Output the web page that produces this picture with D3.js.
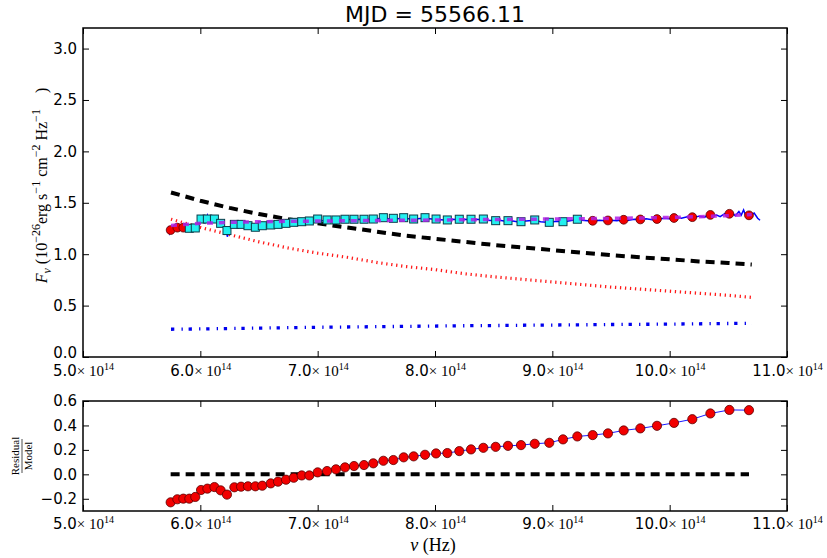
<!DOCTYPE html>
<html>
<head>
<meta charset="utf-8">
<script src="https://cdn.jsdelivr.net/npm/d3@7/dist/d3.min.js"></script>
<style>
  html, body { margin: 0; padding: 0; background: #fff; }
  svg { display: block; }
</style>
</head>
<body>
<svg id="chart" width="827" height="558"></svg>
<script>
// ---- data (frequency in units of 1e14 Hz, flux in 1e-26 erg s^-1 cm^-2 Hz^-1) ----
const title = "MJD = 55566.11";

const xTicks = [5, 6, 7, 8, 9, 10, 11];
const yTicksTop = [0, 0.5, 1, 1.5, 2, 2.5, 3];
const yTicksRes = [-0.2, 0, 0.2, 0.4, 0.6];

// binned photometry frequencies
const binNu = [5.747, 5.804, 5.855, 5.906, 5.957, 6.006, 6.060, 6.120, 6.173, 6.227,
  6.290, 6.347, 6.406, 6.469, 6.528, 6.600, 6.662, 6.730, 6.796, 6.864,
  6.929, 7.000, 7.080, 7.156, 7.233, 7.310, 7.395, 7.474, 7.560, 7.645,
  7.733, 7.818, 7.915, 8.009, 8.105, 8.207, 8.307, 8.412, 8.517, 8.622,
  8.733, 8.850, 8.974, 9.091, 9.213, 9.344, 9.474, 9.608, 9.750, 9.892,
  10.037, 10.193, 10.347, 10.509, 10.676];

// binned flux
const binFlux = [1.235, 1.258, 1.258, 1.252, 1.255, 1.342, 1.342, 1.342, 1.300, 1.230,
  1.290, 1.290, 1.277, 1.262, 1.277, 1.284, 1.290, 1.300, 1.310, 1.316,
  1.323, 1.342, 1.333, 1.333, 1.340, 1.340, 1.340, 1.342, 1.355, 1.349,
  1.355, 1.342, 1.355, 1.342, 1.333, 1.340, 1.340, 1.342, 1.326, 1.326,
  1.316, 1.333, 1.310, 1.316, 1.340, 1.325, 1.328, 1.335, 1.338, 1.342,
  1.352, 1.360, 1.382, 1.393, 1.378];

// bins [SQUARE_START, SQUARE_END) come from the second instrument (cyan squares)
const SQUARE_START = 3, SQUARE_END = 45;

// residual / model
const residual = [-0.229, -0.204, -0.199, -0.199, -0.185, -0.128, -0.117, -0.104, -0.131, -0.166,
  -0.106, -0.101, -0.098, -0.098, -0.093, -0.074, -0.060, -0.044, -0.028, -0.009,
  -0.009, 0.016, 0.027, 0.041, 0.057, 0.068, 0.076, 0.090, 0.111, 0.117,
  0.139, 0.147, 0.160, 0.171, 0.174, 0.190, 0.204, 0.217, 0.225, 0.233,
  0.239, 0.250, 0.258, 0.286, 0.310, 0.321, 0.335, 0.359, 0.376, 0.397,
  0.421, 0.451, 0.498, 0.527, 0.525];

// model grid and components
const modelNu = [5.75, 6.0, 6.25, 6.5, 6.75, 7.0, 7.25, 7.5, 7.75, 8.0, 8.25,
  8.5, 8.75, 9.0, 9.25, 9.5, 9.75, 10.0, 10.25, 10.5, 10.7];
const modelTotal = [1.280, 1.300, 1.310, 1.315, 1.320, 1.322, 1.325, 1.328, 1.330, 1.332, 1.335,
  1.337, 1.340, 1.342, 1.345, 1.348, 1.352, 1.357, 1.365, 1.375, 1.385];
const modelPowerLaw = [1.60, 1.52, 1.45, 1.39, 1.34, 1.30, 1.26, 1.22, 1.18, 1.15, 1.12,
  1.09, 1.065, 1.04, 1.015, 0.99, 0.97, 0.95, 0.93, 0.915, 0.90];
const modelDisk = [1.34, 1.26, 1.19, 1.12, 1.06, 1.01, 0.97, 0.92, 0.88, 0.85, 0.81,
  0.78, 0.755, 0.73, 0.705, 0.68, 0.66, 0.64, 0.62, 0.60, 0.58];
const modelHost = [0.270, 0.273, 0.277, 0.281, 0.285, 0.289, 0.292, 0.295, 0.298, 0.301, 0.304,
  0.306, 0.309, 0.311, 0.313, 0.316, 0.318, 0.320, 0.323, 0.326, 0.328];

// spectrum
const specNu = [5.72, 5.73, 5.74, 5.76, 5.78, 5.80, 5.82, 5.84, 5.86, 5.88, 5.90, 5.92, 5.94, 5.96, 5.98,
  6.00, 6.02, 6.04, 6.06, 6.08, 6.10, 6.12, 6.14, 6.16, 6.18, 6.20, 6.22, 6.23, 6.25, 6.27,
  6.30, 6.33, 6.36, 6.40, 6.44, 6.48, 6.52, 6.56, 6.60, 6.65, 6.70, 6.75, 6.80, 6.85, 6.90,
  6.95, 7.00, 7.05, 7.10, 7.15, 7.20, 7.25, 7.30, 7.35, 7.40, 7.45, 7.50, 7.55, 7.60, 7.65,
  7.70, 7.75, 7.80, 7.85, 7.90, 7.95, 8.00, 8.05, 8.10, 8.15, 8.20, 8.25, 8.30, 8.35, 8.40,
  8.45, 8.50, 8.55, 8.60, 8.65, 8.70, 8.75, 8.80, 8.85, 8.90, 8.95, 9.00, 9.05, 9.10, 9.15,
  9.20, 9.25, 9.30, 9.35, 9.40, 9.45, 9.50, 9.55, 9.60, 9.65, 9.70, 9.75, 9.80, 9.85, 9.90,
  9.95, 10.00, 10.05, 10.10, 10.15, 10.20, 10.25, 10.30, 10.33, 10.36, 10.40, 10.43, 10.47, 10.50, 10.53,
  10.56, 10.59, 10.61, 10.63, 10.65, 10.68, 10.70, 10.72, 10.75, 10.77];
const specFlux = [1.21, 1.27, 1.20, 1.24, 1.26, 1.23, 1.27, 1.25, 1.28, 1.24, 1.27, 1.25, 1.26, 1.29, 1.25,
  1.33, 1.37, 1.31, 1.38, 1.33, 1.37, 1.32, 1.36, 1.30, 1.31, 1.26, 1.24, 1.17, 1.26, 1.29,
  1.30, 1.28, 1.29, 1.28, 1.27, 1.265, 1.28, 1.285, 1.29, 1.29, 1.30, 1.305, 1.31, 1.315, 1.32,
  1.325, 1.33, 1.325, 1.33, 1.335, 1.33, 1.34, 1.335, 1.34, 1.335, 1.34, 1.345, 1.35, 1.345, 1.35,
  1.345, 1.35, 1.34, 1.345, 1.35, 1.345, 1.34, 1.335, 1.33, 1.34, 1.335, 1.34, 1.335, 1.34, 1.335,
  1.33, 1.325, 1.33, 1.32, 1.325, 1.315, 1.32, 1.325, 1.33, 1.315, 1.31, 1.315, 1.32, 1.315, 1.325,
  1.335, 1.33, 1.325, 1.32, 1.33, 1.325, 1.33, 1.325, 1.335, 1.33, 1.34, 1.335, 1.345, 1.335, 1.34,
  1.35, 1.345, 1.36, 1.35, 1.365, 1.355, 1.37, 1.36, 1.39, 1.37, 1.38, 1.365, 1.395, 1.37, 1.40,
  1.375, 1.415, 1.38, 1.43, 1.37, 1.41, 1.385, 1.40, 1.35, 1.33];

// ---- layout ----
const svg = d3.select("#chart");
const L = 83, R = 787;
const top1 = 28, bot1 = 357;
const top2 = 401, bot2 = 511;
const SERIF = "'Liberation Serif', 'DejaVu Serif', serif";
const SANS = "'DejaVu Sans', sans-serif";

const x = d3.scaleLinear().domain([5, 11]).range([L, R]);
const y1 = d3.scaleLinear().domain([0, 3.2]).range([bot1, top1]);
const y2 = d3.scaleLinear().domain([-0.3, 0.6]).range([bot2, top2]);

const fmtMinus = v => (v < 0 ? "\u2212" : "") + Math.abs(v).toFixed(1);

// rebuild x tick labels as "N.0× 10^14"
function sciLabels(g, base) {
  g.selectAll(".tick text").each(function (d) {
    const t = d3.select(this);
    t.text(null).attr("fill", "#000").attr("font-size", 15).attr("dy", null).attr("y", base);
    t.append("tspan").attr("font-family", SANS).text(d.toFixed(1));
    t.append("tspan").attr("font-family", SERIF).attr("font-size", 15).text("\u00d7 10");
    t.append("tspan").attr("font-family", SERIF).attr("font-size", 10).attr("dy", -6).text("14");
  });
}

function drawFrame(yScale, yTicks, yTop, yBot, labelBase) {
  const g = svg.append("g");
  // bottom ticks with labels
  g.append("g").attr("transform", `translate(0,${yBot})`)
    .call(d3.axisBottom(x).tickValues(xTicks).tickSizeInner(-6).tickSizeOuter(0).tickPadding(4))
    .call(a => a.select(".domain").remove())
    .call(a => sciLabels(a, labelBase));
  // top ticks
  g.append("g").attr("transform", `translate(0,${yTop})`)
    .call(d3.axisTop(x).tickValues(xTicks).tickSizeInner(-6).tickSizeOuter(0).tickFormat(""))
    .call(a => a.select(".domain").remove());
  // left ticks with labels
  const yAx = g.append("g").attr("transform", `translate(${L},0)`)
    .call(d3.axisLeft(yScale).tickValues(yTicks).tickSizeInner(-6).tickSizeOuter(0).tickPadding(6).tickFormat(fmtMinus))
    .call(a => a.select(".domain").remove())
    .call(a => a.selectAll(".tick text").attr("font-family", SANS).attr("font-size", 15).attr("fill", "#000").attr("x", -6));
  // right ticks
  g.append("g").attr("transform", `translate(${R},0)`)
    .call(d3.axisRight(yScale).tickValues(yTicks).tickSizeInner(-6).tickSizeOuter(0).tickFormat(""))
    .call(a => a.select(".domain").remove());
  g.selectAll(".tick line").attr("stroke", "#000").attr("stroke-width", 1);
  // frame
  g.append("rect").attr("x", L).attr("y", yTop).attr("width", R - L).attr("height", yBot - yTop)
    .attr("fill", "none").attr("stroke", "#000").attr("stroke-width", 1.5);
  return yAx;
}

// ---- top panel ----
const p1 = svg.append("g");
const modelLine = d3.line().x((d, i) => x(modelNu[i])).y(d => y1(d));

p1.append("path").datum(modelDisk).attr("d", modelLine)
  .attr("fill", "none").attr("stroke", "#ff1a1a").attr("stroke-width", 3.2).attr("stroke-dasharray", "1.3,3.7");
p1.append("path").datum(modelPowerLaw).attr("d", modelLine)
  .attr("fill", "none").attr("stroke", "#000").attr("stroke-width", 4).attr("stroke-dasharray", "9,6");
p1.append("path").datum(modelHost).attr("d", modelLine)
  .attr("fill", "none").attr("stroke", "#0000ee").attr("stroke-width", 3.3).attr("stroke-dasharray", "3.3,7.2,1.3,5.8");

p1.append("path").datum(specFlux)
  .attr("d", d3.line().x((d, i) => x(specNu[i])).y(d => y1(d)))
  .attr("fill", "none").attr("stroke", "#0000ff").attr("stroke-width", 1.5);

const bins = binNu.map((nu, i) => ({ nu, f: binFlux[i], i }));
p1.selectAll("circle.bin").data(bins.filter(d => d.i < SQUARE_START || d.i >= SQUARE_END))
  .join("circle").attr("class", "bin")
  .attr("cx", d => x(d.nu)).attr("cy", d => y1(d.f)).attr("r", 4.4)
  .attr("fill", "#f20000").attr("stroke", "#5a0000").attr("stroke-width", 0.8);
p1.selectAll("rect.bin").data(bins.filter(d => d.i >= SQUARE_START && d.i < SQUARE_END))
  .join("rect").attr("class", "bin")
  .attr("x", d => x(d.nu) - 4).attr("y", d => y1(d.f) - 4).attr("width", 8).attr("height", 8)
  .attr("fill", "#22f0f0").attr("stroke", "#0c3c4a").attr("stroke-width", 1);

// total model drawn over the binned points
p1.append("path").datum(modelTotal).attr("d", modelLine)
  .attr("fill", "none").attr("stroke", "#b020e8").attr("stroke-width", 3.5).attr("stroke-dasharray", "6,6")
  .attr("opacity", 0.85);

const yAxTop = drawFrame(y1, yTicksTop, top1, bot1, 19);
// lift the lowest flux label so it clears the frequency labels
yAxTop.selectAll(".tick text").filter(d => d === 0).attr("dy", "0em");

// ---- residual panel ----
const p2 = svg.append("g");
p2.append("line").attr("x1", x(binNu[0])).attr("x2", x(binNu[binNu.length - 1]))
  .attr("y1", y2(0)).attr("y2", y2(0))
  .attr("stroke", "#000").attr("stroke-width", 4).attr("stroke-dasharray", "9,6");
p2.append("path").datum(residual)
  .attr("d", d3.line().x((d, i) => x(binNu[i])).y(d => y2(d)))
  .attr("fill", "none").attr("stroke", "#1a1aff").attr("stroke-width", 1);
p2.selectAll("circle").data(residual).join("circle")
  .attr("cx", (d, i) => x(binNu[i])).attr("cy", d => y2(d)).attr("r", 4.6)
  .attr("fill", "#f20000").attr("stroke", "#5a0000").attr("stroke-width", 0.8);

drawFrame(y2, yTicksRes, top2, bot2, 18);

// ---- titles and axis labels ----
svg.append("text").attr("x", (L + R) / 2).attr("y", 22).attr("text-anchor", "middle")
  .attr("font-family", SANS).attr("font-size", 22).attr("fill", "#000").text(title);

svg.append("text").attr("x", (L + R) / 2 - 2).attr("y", 551).attr("text-anchor", "middle")
  .attr("font-family", SERIF).attr("font-size", 18).attr("fill", "#000")
  .call(t => {
    t.append("tspan").attr("font-style", "italic").text("\u03bd");
    t.append("tspan").text(" (Hz)");
  });

// rotated label built from segments with baseline shifts
function mathLabel(g, segs, size) {
  const t = g.append("text").attr("text-anchor", "middle")
    .attr("font-family", SERIF).attr("font-size", size).attr("fill", "#000");
  let cur = 0;
  segs.forEach(s => {
    const shift = s.shift || 0;
    const ts = t.append("tspan").attr("dy", shift - cur).text(s.t);
    if (s.size) ts.attr("font-size", s.size);
    if (s.italic) ts.attr("font-style", "italic");
    cur = shift;
  });
  return t;
}

const yl = svg.append("g").attr("transform", `translate(47,${(top1 + bot1) / 2 - 7}) rotate(-90)`);
mathLabel(yl, [
  { t: "F", italic: true },
  { t: "\u03bd", italic: true, shift: 4, size: 12 },
  { t: " (10" },
  { t: "\u221226", shift: -7, size: 12 },
  { t: "erg s" },
  { t: "\u22121", shift: -7, size: 12 },
  { t: " cm" },
  { t: "\u22122", shift: -7, size: 12 },
  { t: " Hz" },
  { t: "\u22121", shift: -7, size: 12 },
  { t: "\u2002\u2002)" }
], 16);

const rl = svg.append("g").attr("transform", `translate(22,${(top2 + bot2) / 2}) rotate(-90)`);
rl.append("text").attr("x", 0).attr("y", -3).attr("text-anchor", "middle")
  .attr("font-family", SERIF).attr("font-size", 11).attr("fill", "#000").text("Residual");
rl.append("line").attr("x1", -17).attr("x2", 17).attr("y1", 0).attr("y2", 0)
  .attr("stroke", "#000").attr("stroke-width", 0.7);
rl.append("text").attr("x", 0).attr("y", 10).attr("text-anchor", "middle")
  .attr("font-family", SERIF).attr("font-size", 11).attr("fill", "#000").text("Model");
</script>
</body>
</html>
